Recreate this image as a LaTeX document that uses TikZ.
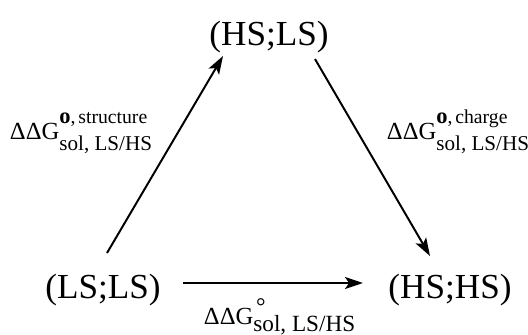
\documentclass[tikz,border=0pt]{standalone}
\usepackage{fontspec}
\setmainfont{Liberation Serif}
\usetikzlibrary{arrows.meta}
\tikzset{
  state/.style={font=\fontsize{25}{30}\selectfont, inner sep=0pt, anchor=base},
  dg/.style={font=\fontsize{17.5}{20}\selectfont, inner sep=0pt, anchor=base west},
  arr/.style={black, line width=1.4pt, -{Stealth[length=0.45cm, width=0.3cm, inset=0.1cm]}}
}
% Delta Delta G with superscript #2 and subscript #3, subscript lowered by #1
\newcommand{\ddgsol}[3][8.5pt]{ΔΔG\rlap{\raisebox{11pt}{\fontsize{14}{14}\selectfont #2}}\raisebox{-#1}{\fontsize{15}{15}\selectfont #3}}
\newcommand{\ringo}{{\fontsize{16}{16}\selectfont\textbf{o}},\hspace{2pt}}
\begin{document}
\begin{tikzpicture}[x=0.025cm, y=-0.025cm]
    \useasboundingbox (0,0) rectangle (528,335);
    \node [state] (hsls) at (269,46) {(HS;LS)};
    \node [state] (lsls) at (103,298) {(LS;LS)};
    \node [state] (hshs) at (450,298) {(HS;HS)};
    \draw [arr] ([shift={(4,-45)}]lsls.base) -- ([shift={(-46,10)}]hsls.base)
      node [dg] (dgstruct) at (9,139) {\ddgsol{\ringo structure}{sol, LS/HS}};
    \draw [arr] ([shift={(46,13)}]hsls.base) -- ([shift={(-20,-42)}]hshs.base)
      node [dg] (dgcharge) at (386,139) {\ddgsol{\ringo charge}{sol, LS/HS}};
    \draw [arr] ([shift={(80,-15)}]lsls.base) -- ([shift={(-87,-15)}]hshs.base)
      node [dg] (dgsol) at (203,324) {\ddgsol[5pt]{\hspace{2pt}\raisebox{-4.5pt}{\fontsize{17}{17}\selectfont °}}{\fontsize{16.5}{16.5}\selectfont sol, LS/HS}};
  \end{tikzpicture}
\end{document}
